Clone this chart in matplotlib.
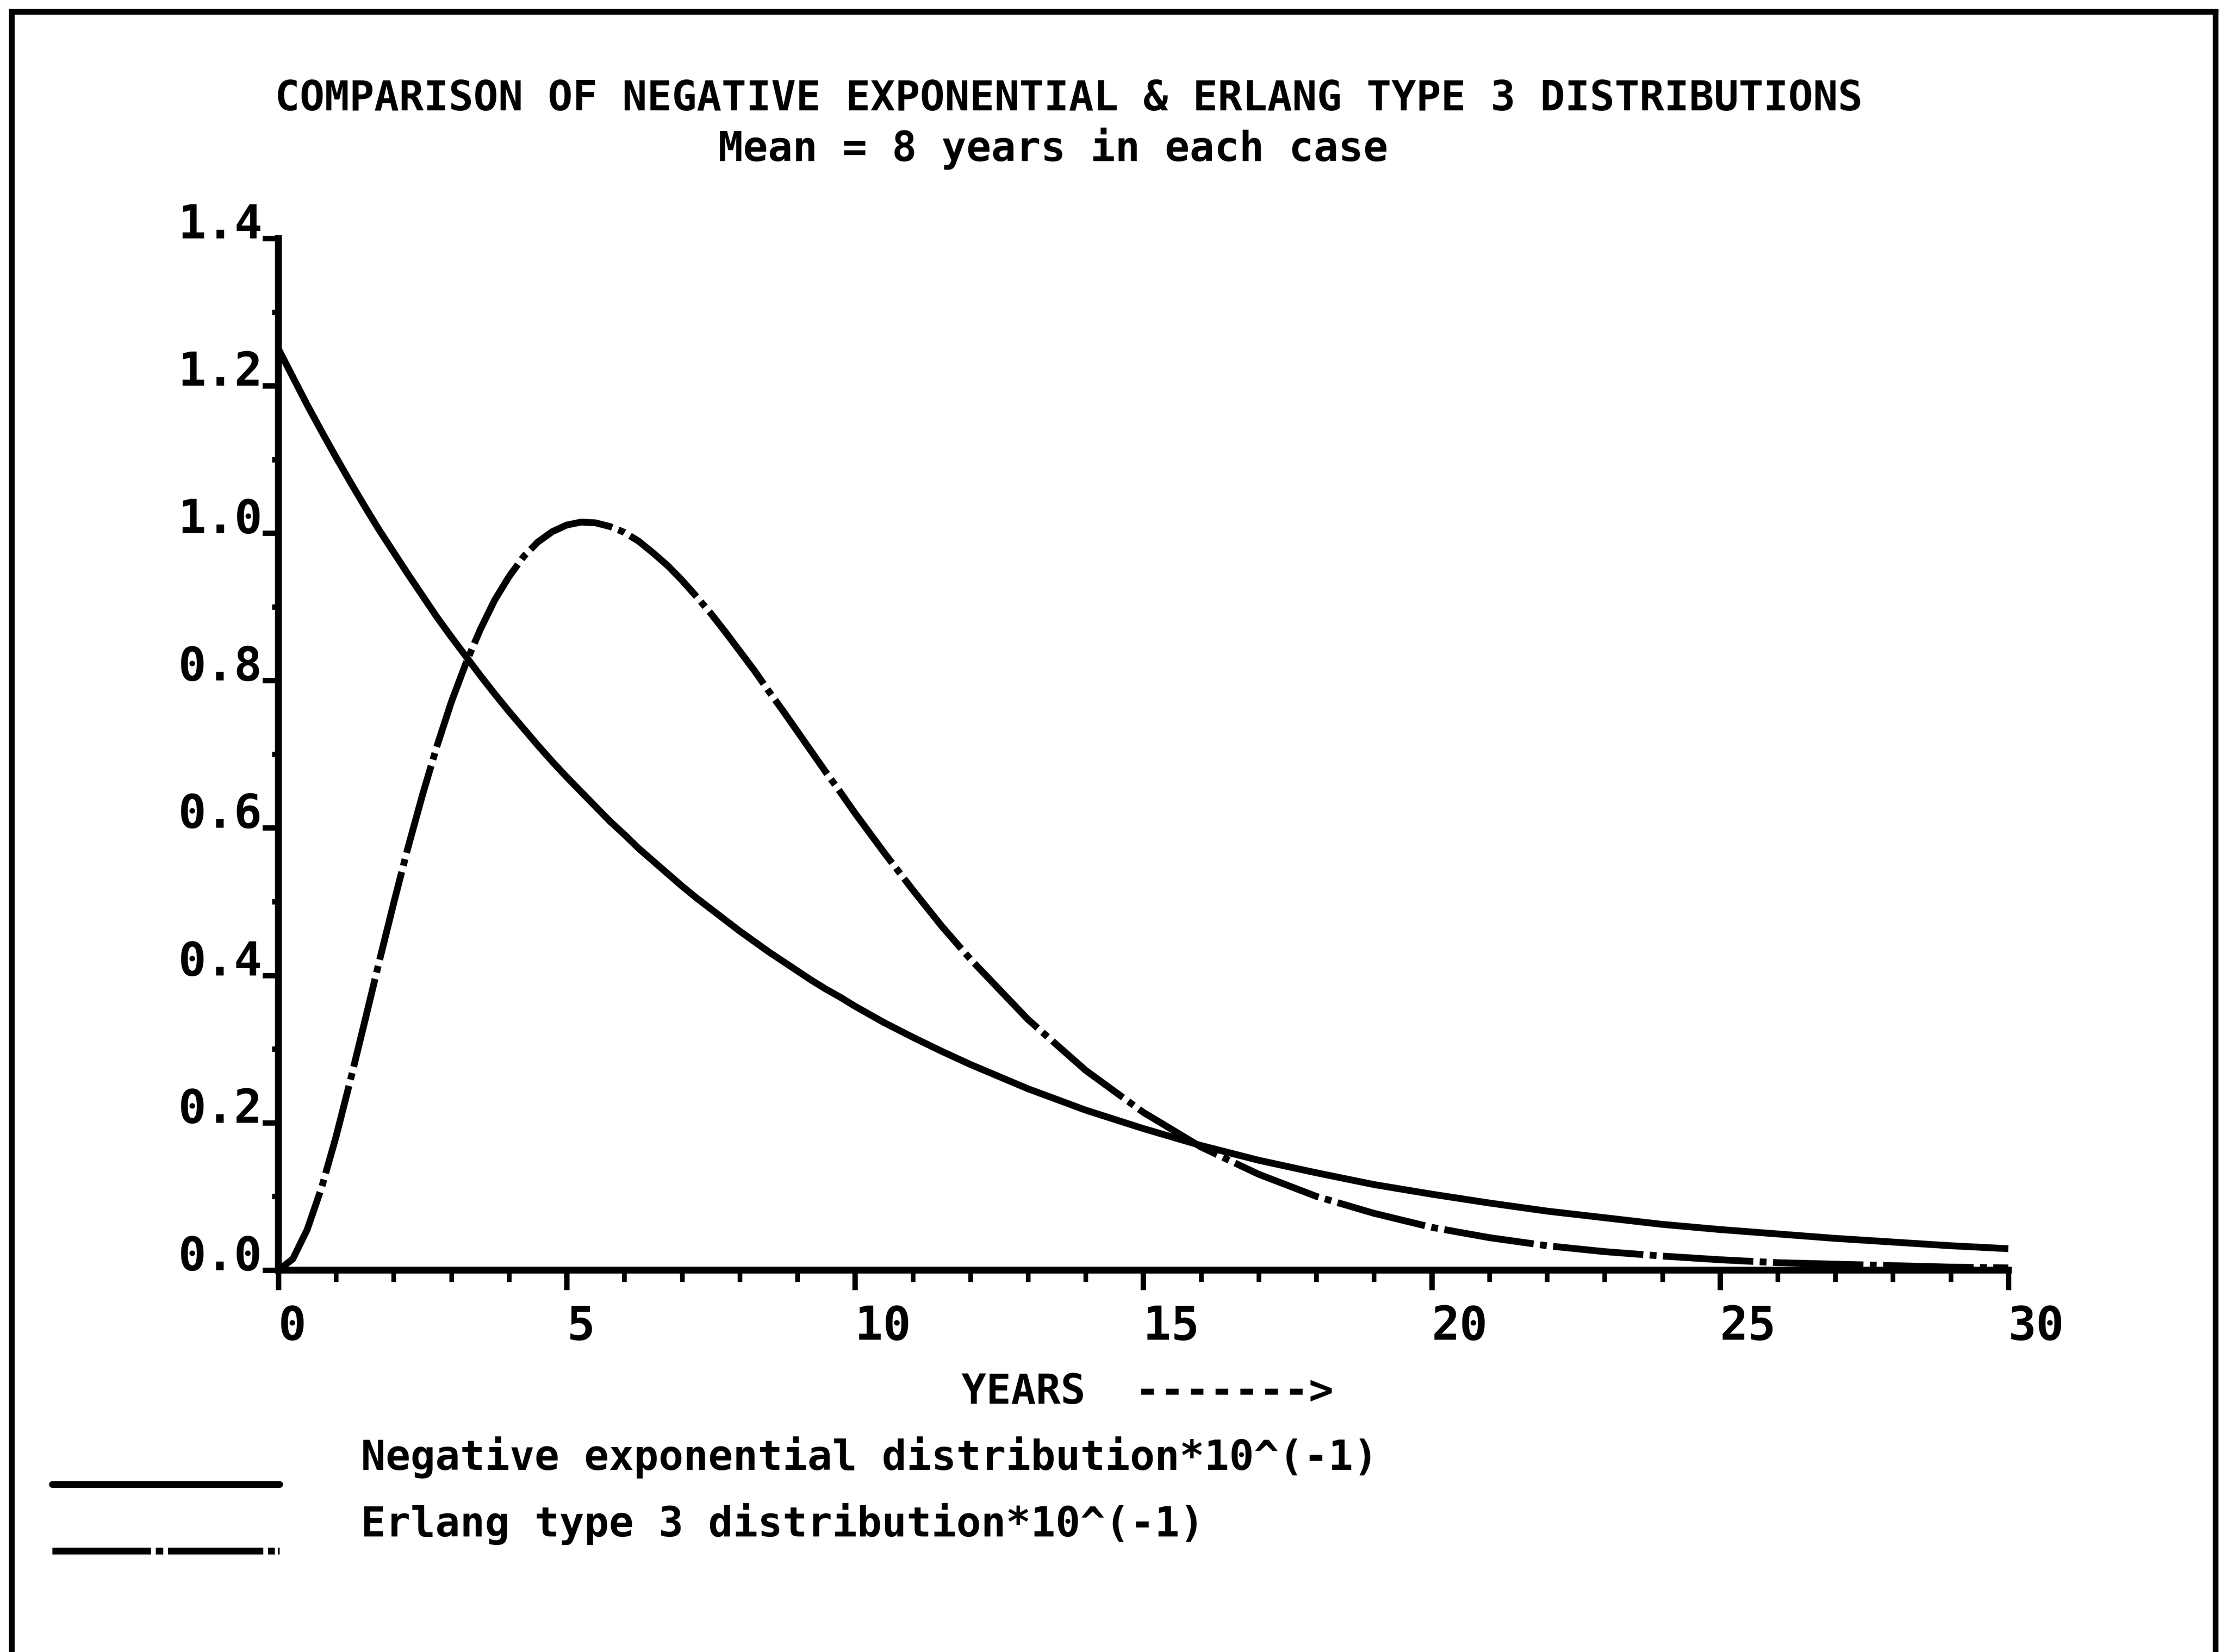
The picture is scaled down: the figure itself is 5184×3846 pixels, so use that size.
import matplotlib
matplotlib.use("Agg")
import matplotlib.pyplot as plt
from matplotlib.lines import Line2D
from matplotlib.ticker import MultipleLocator

# ---- data (density x 10, mean = 8 years) ----
years = [0, 0.25, 0.5, 0.75, 1, 1.25, 1.5, 1.75, 2, 2.25, 2.5, 2.75, 3,
         3.25, 3.5, 3.75, 4, 4.25, 4.5, 4.75, 5, 5.25, 5.5, 5.75, 6, 6.25,
         6.5, 6.75, 7, 7.25, 7.5, 7.75, 8, 8.25, 8.5, 8.75, 9, 9.25, 9.5,
         9.75, 10, 10.5, 11, 11.5, 12, 13, 14, 15, 16, 17, 18, 19, 20, 21,
         22, 23, 24, 25, 26, 27, 28, 29, 30]
neg_exponential = [1.250, 1.212, 1.174, 1.138, 1.103, 1.069, 1.036, 1.004,
                   0.974, 0.944, 0.915, 0.886, 0.859, 0.833, 0.807, 0.782,
                   0.758, 0.735, 0.712, 0.690, 0.669, 0.649, 0.629, 0.609,
                   0.591, 0.572, 0.555, 0.538, 0.521, 0.505, 0.490, 0.475,
                   0.460, 0.446, 0.432, 0.419, 0.406, 0.393, 0.381, 0.370,
                   0.358, 0.336, 0.316, 0.297, 0.279, 0.246, 0.217, 0.192,
                   0.169, 0.149, 0.132, 0.116, 0.103, 0.091, 0.080, 0.071,
                   0.062, 0.055, 0.049, 0.043, 0.038, 0.033, 0.029]
erlang_type3 = [0.000, 0.015, 0.055, 0.112, 0.181, 0.258, 0.338, 0.419,
                0.498, 0.574, 0.645, 0.711, 0.771, 0.823, 0.869, 0.909,
                0.941, 0.968, 0.988, 1.002, 1.011, 1.015, 1.014, 1.009,
                1.001, 0.989, 0.973, 0.956, 0.936, 0.914, 0.891, 0.866,
                0.840, 0.814, 0.786, 0.759, 0.731, 0.703, 0.675, 0.648,
                0.620, 0.567, 0.516, 0.467, 0.422, 0.340, 0.271, 0.214,
                0.167, 0.130, 0.100, 0.077, 0.058, 0.044, 0.033, 0.025,
                0.019, 0.014, 0.010, 0.008, 0.006, 0.004, 0.003]

x_ticks = [0, 5, 10, 15, 20, 25, 30]
y_ticks = [0.0, 0.2, 0.4, 0.6, 0.8, 1.0, 1.2, 1.4]
y_tick_labels = ["0.0", "0.2", "0.4", "0.6", "0.8", "1.0", "1.2", "1.4"]

title_text = "COMPARISON OF NEGATIVE EXPONENTIAL & ERLANG TYPE 3 DISTRIBUTIONS"
subtitle_text = "Mean = 8 years in each case"
xlabel_text = "YEARS  ------->"
legend_labels = ["Negative exponential distribution*10^(-1)",
                 "Erlang type 3 distribution*10^(-1)"]

# ---- styling ----
FONT = "DejaVu Sans Mono"
LW = 3.8
erlang_dashes = (13.3, 0.95, 1.0, 0.95)

fig = plt.figure(figsize=(17.28, 12.82), dpi=300)
fig.patch.set_facecolor("white")

ax = fig.add_axes([0.1250, 0.2312, 0.9018 - 0.1250, 0.8557 - 0.2312])
ax.set_xlim(0, 30)
ax.set_ylim(0, 1.4)

ax.plot(years, neg_exponential, color="black", lw=LW, solid_capstyle="butt",
        solid_joinstyle="round", clip_on=False, zorder=3)
ax.plot(years, erlang_type3, color="black", lw=LW, dashes=erlang_dashes,
        dash_joinstyle="round", clip_on=False, zorder=3)

for side in ("top", "right"):
    ax.spines[side].set_visible(False)
for side in ("left", "bottom"):
    ax.spines[side].set_linewidth(3.8)
    ax.spines[side].set_capstyle("projecting")

ax.set_xticks(x_ticks)
ax.set_xticklabels([str(v) for v in x_ticks], fontfamily=FONT,
                   fontweight="bold", fontsize=26)
ax.xaxis.set_minor_locator(MultipleLocator(1))
ax.tick_params(axis="x", which="major", direction="out", length=11, width=3,
               pad=8)
ax.tick_params(axis="x", which="minor", direction="out", length=6.5, width=2.6)
for lbl in ax.get_xticklabels():
    lbl.set_horizontalalignment("left")

ax.set_yticks(y_ticks)
ax.set_yticklabels(y_tick_labels, fontfamily=FONT, fontweight="bold",
                   fontsize=26)
ax.yaxis.set_minor_locator(MultipleLocator(0.1))
ax.tick_params(axis="y", which="major", direction="out", length=9, width=3,
               pad=0)
ax.tick_params(axis="y", which="minor", direction="out", length=3.5, width=3)
for lbl in ax.get_yticklabels():
    lbl.set_verticalalignment("baseline")

# ---- titles and axis caption ----
fig.text(0.480, 0.9400, title_text, ha="center", va="center",
         fontfamily=FONT, fontweight="bold", fontsize=23)
fig.text(0.473, 0.9100, subtitle_text, ha="center", va="center",
         fontfamily=FONT, fontweight="bold", fontsize=23)
fig.text(0.4318, 0.1573, xlabel_text, ha="left", va="center",
         fontfamily=FONT, fontweight="bold", fontsize=23)

# ---- key below the chart ----
fig.add_artist(Line2D([0.0236, 0.1256], [0.1015, 0.1015], color="black",
                      lw=LW, solid_capstyle="round"))
fig.add_artist(Line2D([0.0236, 0.1256], [0.0610, 0.0610], color="black",
                      lw=LW, dashes=(14.5, 0.7, 1.1, 0.7, 14.0, 0.7, 1.0,
                                     0.45, 1.0, 60)))
fig.text(0.162, 0.1178, legend_labels[0], ha="left", va="center",
         fontfamily=FONT, fontweight="bold", fontsize=23)
fig.text(0.162, 0.0774, legend_labels[1], ha="left", va="center",
         fontfamily=FONT, fontweight="bold", fontsize=23)

# ---- page frame (open at the bottom) ----
frame_lw = 3.2
fig.add_artist(Line2D([0.0052, 0.0052], [0.0, 0.993], color="black",
                      lw=frame_lw, solid_capstyle="projecting"))
fig.add_artist(Line2D([0.0052, 0.9948], [0.993, 0.993], color="black",
                      lw=frame_lw, solid_capstyle="projecting"))
fig.add_artist(Line2D([0.9948, 0.9948], [0.0, 0.993], color="black",
                      lw=frame_lw, solid_capstyle="projecting"))

fig.savefig("out.png", dpi=300, facecolor="white")
